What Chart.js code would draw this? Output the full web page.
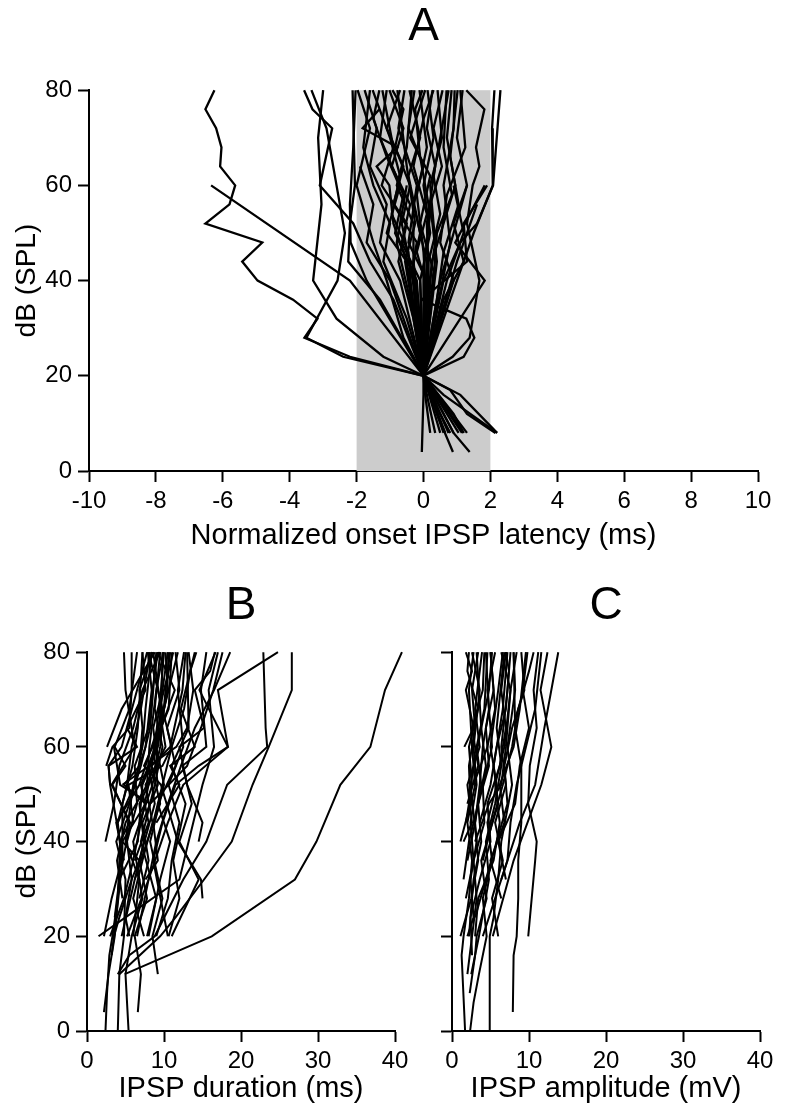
<!DOCTYPE html>
<html>
<head>
<meta charset="utf-8">
<script src="https://cdn.jsdelivr.net/npm/chart.js@4/dist/chart.umd.min.js"></script>
<style>
  html, body { margin: 0; padding: 0; background: #fff; }
  body { width: 800px; height: 1113px; position: relative; overflow: hidden; }
  .panel { position: absolute; }
</style>
</head>
<body>
<div class="panel" style="left:0;top:0"><canvas id="chartA" width="800" height="560"></canvas></div>
<div class="panel" style="left:0;top:560px"><canvas id="chartB" width="420" height="553"></canvas></div>
<div class="panel" style="left:420px;top:560px"><canvas id="chartC" width="380" height="553"></canvas></div>
<script>
// each trace is a list of [dB SPL, value] pairs
const dbTicks = [0, 20, 40, 60, 80];
const latencyTicks = [-10, -8, -6, -4, -2, 0, 2, 4, 6, 8, 10];
const shadedWindow = [-2, 2];

const latencyTraces = [
  [[80,-6.25],[76,-6.52],[72,-6.2],[68,-6.04],[64,-6.08],[60,-5.63],[56,-5.8],[52,-6.52],[48,-4.82],[44,-5.42],[40,-4.96],[36,-3.9],[32,-3.17],[28,-3.56],[24,-2.2],[20,0],[16,0.3],[8,0.9]],
  [[60,-6.35],[40,-2.2],[20,0],[12,0.4],[8,0.6]],
  [[80,-3.57],[76,-3.32],[72,-2.73],[60,-3.1],[52,-2.1],[44,-1.6],[36,-0.9],[20,0]],
  [[80,-3.0],[70,-3.15],[56,-3.05],[40,-3.3],[32,-2.6],[24,-1.2],[20,0]],
  [[80,-3.35],[72,-2.9],[60,-2.6],[50,-2.35],[40,-2.57],[28,-3.5],[24,-2.4],[20,0],[8,1.2]],
  [[80,-2.03],[68,-2.1],[56,-2.2],[48,-2.18],[40,-1.7],[20,0]],
  [[80,-2.12],[60,-2.05],[52,-2.2],[44,-2.25],[36,-1.3],[20,0],[8,0.5]],
  [[80,-1.97],[72,-1.6],[60,-2.0],[48,-1.5],[40,-1.1],[28,-0.6],[20,0]],
  [[80,-1.76],[72,-1.4],[64,-1.6],[56,-1.1],[48,-1.3],[40,-0.7],[20,0],[16,0.1],[8,0.35]],
  [[76,-1.32],[72,-1.82],[68,-0.78],[64,-1.4],[60,-1.02],[52,-0.9],[44,-0.5],[20,0]],
  [[80,-1.52],[70,-1.0],[62,-0.7],[54,-0.95],[46,-0.45],[36,-0.35],[20,0],[12,0.5],[8,0.8]],
  [[80,-1.32],[74,-1.5],[66,-1.1],[58,-0.6],[50,-0.85],[40,-0.2],[20,0]],
  [[80,-1.23],[68,-0.9],[60,-1.25],[52,-0.5],[44,-0.75],[32,-0.3],[20,0],[16,0.05],[8,0.2]],
  [[80,-1.02],[72,-0.6],[64,-0.95],[56,-0.4],[48,-0.65],[40,-0.1],[20,0]],
  [[80,-0.93],[76,-0.6],[68,-0.85],[60,-0.4],[52,-0.65],[40,-0.3],[28,-0.2],[20,0],[8,1.05]],
  [[80,-0.78],[64,-0.5],[52,-0.25],[44,-0.55],[20,0]],
  [[80,-0.57],[72,-0.75],[60,-0.2],[48,-0.45],[40,0.1],[20,0],[16,0],[4,-0.05]],
  [[80,-0.42],[70,-0.1],[62,-0.45],[50,-0.1],[42,-0.35],[20,0]],
  [[80,-0.27],[72,-0.45],[64,0.0],[56,-0.3],[44,0.1],[20,0],[12,0.9],[8,1.2]],
  [[80,-0.12],[68,0.1],[58,-0.2],[46,0.0],[40,0.05],[20,0]],
  [[80,-0.03],[76,-0.25],[66,-0.1],[54,0.2],[42,0.0],[20,0],[8,0.9],[4,1.38]],
  [[80,0.12],[70,0.3],[60,0.0],[50,0.2],[40,-0.1],[20,0]],
  [[80,0.27],[72,0.1],[64,0.35],[52,0.1],[42,0.15],[20,0],[12,0.4],[4,0.88]],
  [[80,0.42],[70,0.55],[60,0.2],[48,0.35],[36,0.1],[20,0]],
  [[80,0.57],[72,0.3],[64,0.55],[56,0.2],[44,0.4],[20,0],[8,1.3]],
  [[80,0.69],[68,0.6],[58,0.85],[50,0.4],[40,0.3],[20,0]],
  [[80,0.84],[70,0.7],[60,0.95],[52,0.6],[44,0.25],[20,0],[16,1.1],[8,2.2]],
  [[80,0.93],[72,0.9],[60,0.6],[48,0.8],[20,0]],
  [[80,1.02],[66,0.8],[56,1.05],[46,0.6],[36,0.4],[20,0],[17,0.8],[12,1.3],[8,2.15]],
  [[80,1.17],[70,1.0],[60,1.3],[50,0.9],[40,0.5],[20,0]],
  [[80,1.28],[76,1.82],[68,1.57],[64,1.67],[60,1.47],[52,1.3],[40,1.67],[28,1.38],[24,0.87],[20,0]],
  [[80,2.12],[72,2.05],[60,2.07],[50,1.5],[40,1.0],[20,0],[16,0.6],[8,2.2]],
  [[80,2.3],[60,2.08],[52,1.6],[48,1.1],[40,0.6],[20,0]],
  [[60,1.9],[52,1.2],[44,1.3],[36,-0.05],[32,1.28],[28,1.52],[24,1.2],[20,0]],
  [[60,1.83],[48,0.95],[40,1.83],[20,0]],
  [[60,1.3],[52,0.9],[44,1.2],[36,0.6],[20,0]],
  [[56,1.6],[44,1.0],[20,0]],
  [[60,-0.5],[48,-0.8],[36,-0.4],[20,0]],
  [[60,0.9],[50,1.2],[40,0.7],[20,0],[8,0.65]],
  [[64,-1.9],[56,-1.5],[48,-1.7],[40,-1.0],[20,0]],
  [[80,-0.7],[72,-1.1],[64,-0.6],[56,-0.9],[48,-0.2],[40,-0.4],[20,0]],
  [[80,0.3],[74,0.0],[64,-0.3],[54,0.1],[46,-0.2],[36,0.2],[20,0]],
  [[80,-0.35],[68,-0.5],[60,-0.8],[52,-0.3],[44,-0.3],[32,-0.1],[20,0]],
  [[80,0.75],[72,0.55],[62,0.3],[54,0.5],[44,0.15],[20,0],[8,0.75]],
  [[80,-1.1],[70,-1.3],[60,-0.7],[50,-1.1],[42,-0.3],[20,0]],
  [[80,0.05],[70,-0.4],[62,0.2],[52,-0.1],[42,0.3],[20,0],[8,1.15]],
  [[80,1.1],[68,1.25],[58,0.7],[48,0.5],[40,0.9],[20,0]],
  [[80,-1.6],[68,-1.8],[60,-1.5],[52,-1.0],[44,-1.2],[32,-0.5],[20,0]]
];

const msTicks = [0, 10, 20, 30, 40];
const durationTraces = [
  [[12,4.9],[20,16.2],[32,27],[40,29.8],[52,32.9],[60,36.8],[72,38.7],[80,40.9]],
  [[12,4.2],[20,9.5],[24,11.5],[32,15.2],[40,18.8],[52,21.5],[60,23.6],[72,26.6],[80,26.6]],
  [[12,4.0],[16,5.5],[20,8.8],[32,12.5],[40,15.5],[52,18.2],[60,23.4],[64,23.2],[80,22.9]],
  [[20,5.2],[32,8.0],[44,10.5],[52,12.5],[60,18.3],[72,17.0],[80,24.8]],
  [[20,6.5],[28,7.5],[40,9.0],[48,10.5],[56,12.2],[64,14.0],[72,16.5],[80,18.6]],
  [[20,10.5],[36,8.6],[44,9.8],[52,11.5],[56,14.5],[60,18.3],[72,14.6],[80,16.7]],
  [[60,2.6],[68,4.5],[80,8.8]],
  [[40,2.4],[48,3.5],[56,4.2],[64,6.0],[72,7.2],[80,9.5]],
  [[20,1.5],[24,5.0],[32,12.0],[40,13.2],[52,15.0],[60,16.5],[72,15.8],[80,17.0]],
  [[0,2.4],[8,2.6],[16,2.9],[20,3.3],[28,4.0],[40,4.3],[52,3.0],[56,2.8],[60,4.5],[72,6.5],[80,7.8]],
  [[0,4.0],[12,4.2],[20,4.8],[32,5.0],[40,3.8],[48,5.5],[56,7.0],[64,8.2],[80,9.0]],
  [[0,5.4],[12,5.0],[20,5.8],[28,7.2],[40,6.0],[52,8.5],[60,9.5],[72,10.2],[80,10.8]],
  [[4,2.2],[12,2.8],[20,3.6],[32,4.2],[44,5.6],[52,3.2],[60,6.2],[72,5.0],[80,4.8]],
  [[4,6.6],[12,7.0],[20,6.2],[28,7.8],[36,6.8],[48,8.8],[56,8.0],[64,9.6],[80,9.8]],
  [[12,9.2],[20,8.5],[28,9.8],[40,8.2],[52,10.0],[60,9.0],[72,10.5],[80,10.2]],
  [[20,2.2],[28,3.2],[36,4.5],[44,4.0],[52,5.2],[60,5.8],[68,7.0],[80,8.2]],
  [[20,3.5],[24,4.2],[32,5.8],[40,5.2],[48,6.5],[56,6.2],[64,8.0],[72,8.5],[80,9.2]],
  [[20,4.5],[32,6.2],[40,7.4],[48,6.8],[56,9.2],[64,8.6],[72,9.8],[80,10.5]],
  [[20,7.4],[28,6.0],[36,7.2],[44,8.5],[52,7.6],[60,10.2],[68,9.4],[80,11.2]],
  [[20,8.0],[32,9.5],[40,10.8],[48,9.2],[56,11.5],[64,10.4],[72,12.0],[80,11.5]],
  [[20,9.0],[28,10.5],[36,11.0],[44,12.0],[52,10.6],[60,12.5],[72,11.8],[80,12.6]],
  [[20,10.6],[28,12.0],[36,11.2],[48,12.8],[56,11.0],[64,13.2],[80,13.0]],
  [[20,11.0],[32,14.5],[40,12.0],[48,13.6],[56,12.4],[60,15.5],[72,14.8],[80,15.5]],
  [[20,6.0],[32,6.8],[40,5.0],[52,6.0],[60,7.6],[72,8.4],[80,7.9]],
  [[20,5.5],[24,5.0],[32,5.8],[36,6.8],[40,4.6],[48,7.6],[52,4.8],[56,6.8],[64,7.2],[72,6.8],[80,8.5]],
  [[40,4.3],[44,5.5],[52,3.3],[56,5.0],[60,3.6],[68,5.5],[80,6.5]],
  [[52,3.0],[56,2.8],[60,6.5],[64,5.2],[72,7.6],[80,7.2]],
  [[36,4.8],[44,3.8],[52,6.8],[60,8.4],[68,10.0],[80,11.8]],
  [[32,6.2],[40,7.8],[48,9.5],[56,8.4],[60,10.8],[72,12.4],[80,12.8]],
  [[44,9.0],[52,12.0],[56,10.8],[60,14.0],[68,12.2],[80,14.0]],
  [[40,14.5],[44,15.0],[52,13.0],[60,12.0],[64,15.2],[72,14.0],[76,16.0],[80,16.6]],
  [[28,15.0],[32,14.8],[40,11.8],[52,9.6],[56,7.4],[64,9.6],[72,11.4],[80,9.2]],
  [[32,7.6],[36,9.2],[44,8.6],[52,9.8],[60,11.0],[72,9.2],[80,8.0]],
  [[20,7.8],[28,9.0],[40,7.0],[52,8.8],[60,9.8],[68,8.8],[80,9.5]],
  [[24,3.6],[32,4.2],[40,6.6],[52,7.2],[60,9.2],[72,10.4],[80,10.6]],
  [[28,4.6],[36,3.9],[44,5.0],[52,7.8],[60,8.1],[72,9.0],[80,9.9]],
  [[16,3.2],[24,3.8],[36,4.6],[48,4.6],[56,5.9],[64,6.6],[80,7.2]],
  [[52,4.6],[60,11.6],[64,13.0],[72,13.8],[80,13.2]],
  [[56,2.5],[60,3.3],[64,5.5],[72,5.8],[80,5.8]],
  [[44,6.0],[52,5.4],[56,9.8],[60,11.0],[68,12.6],[76,13.4],[80,14.2]],
  [[60,3.5],[52,4.3],[48,8.2],[56,13.0],[64,14.8],[72,16.4],[80,17.6]],
  [[20,3.0],[28,4.8],[36,6.0],[44,7.0],[52,8.0],[60,8.8],[72,9.6],[80,10.0]],
  [[28,6.8],[36,8.0],[44,7.2],[52,9.2],[60,8.6],[68,10.6],[80,11.0]],
  [[36,6.2],[44,8.0],[52,7.0],[60,9.0],[68,9.6],[80,8.6]],
  [[44,4.0],[52,6.2],[60,7.2],[68,7.6],[80,8.4]]
];

const mvTicks = [0, 10, 20, 30, 40];
const amplitudeTraces = [
  [[32,6.4],[44,8.8],[52,10.8],[64,12.0],[80,13.8]],
  [[20,5.3],[36,8.0],[52,11.6],[60,12.9],[72,11.5],[80,12.4]],
  [[4,7.9],[16,8.0],[20,8.4],[28,8.6],[36,8.6],[44,9.0],[56,9.0],[64,8.2],[80,8.0]],
  [[0,4.9],[20,4.9],[24,5.4],[32,6.0],[40,6.4],[52,7.8],[60,7.2],[72,8.2],[80,8.0]],
  [[20,9.9],[36,10.8],[40,11.0],[48,9.9],[56,10.1],[64,11.0],[72,10.6],[80,11.2]],
  [[0,1.7],[16,1.25],[20,1.5],[28,2.2],[36,2.6],[44,2.0],[52,3.0],[60,2.6],[72,2.2],[80,2.8]],
  [[0,2.35],[6,2.8],[12,3.5],[20,4.5],[28,4.0],[36,5.2],[44,4.6],[52,5.8],[60,5.0],[72,6.0],[80,6.6]],
  [[20,1.1],[28,2.5],[36,3.4],[44,3.0],[52,3.8],[60,3.2],[68,4.2],[80,4.6]],
  [[40,1.1],[48,2.4],[56,2.2],[64,3.0],[72,2.6],[80,3.4]],
  [[40,1.5],[44,2.6],[52,2.0],[60,3.6],[68,3.0],[80,3.9]],
  [[32,1.5],[40,2.2],[48,3.4],[56,4.4],[64,3.8],[72,4.8],[80,5.2]],
  [[12,2.0],[20,2.6],[28,3.2],[36,2.8],[44,4.2],[52,4.0],[60,5.2],[72,4.6],[80,5.6]],
  [[12,2.5],[20,3.5],[32,4.8],[40,4.4],[48,5.6],[56,6.4],[64,5.8],[80,6.8]],
  [[8,2.3],[16,3.0],[20,3.2],[28,4.5],[36,3.8],[48,6.0],[56,5.4],[68,6.6],[80,7.2]],
  [[20,6.0],[28,5.2],[36,6.6],[44,5.6],[52,7.0],[60,6.4],[72,7.2],[80,7.6]],
  [[20,2.2],[32,2.8],[40,3.8],[48,3.4],[56,4.8],[64,4.4],[72,5.4],[80,5.0]],
  [[16,2.6],[24,2.4],[32,3.6],[40,5.0],[48,4.6],[56,6.2],[64,7.0],[72,6.4],[80,7.0]],
  [[24,3.0],[32,4.4],[40,5.8],[48,7.2],[56,6.8],[64,7.8],[72,9.4],[80,9.0]],
  [[28,6.4],[36,5.0],[44,6.8],[52,6.2],[60,8.0],[68,8.8],[80,9.6]],
  [[20,4.0],[28,5.6],[36,7.2],[44,7.6],[52,8.4],[60,9.6],[68,10.8],[80,11.6]],
  [[36,4.0],[44,5.2],[52,6.6],[60,7.8],[68,8.6],[76,10.0],[80,10.6]],
  [[40,3.0],[48,4.8],[52,6.4],[60,7.0],[72,7.6],[80,6.4]],
  [[44,1.8],[52,2.6],[60,2.2],[68,3.4],[76,2.0],[80,2.2]],
  [[60,1.6],[64,2.8],[72,1.8],[76,2.6],[80,1.8]],
  [[52,2.8],[60,4.6],[68,5.6],[80,5.0]],
  [[20,2.0],[24,2.8],[32,2.4],[40,3.2],[52,2.4],[64,3.8],[80,3.2]],
  [[32,7.0],[40,6.0],[48,8.2],[56,8.8],[64,10.0],[72,9.2],[80,9.8]],
  [[20,3.0],[28,3.4],[36,5.4],[44,6.2],[52,5.6],[60,6.8],[72,7.6],[80,8.4]],
  [[44,3.6],[52,5.0],[60,5.8],[68,7.0],[76,7.4],[80,7.0]],
  [[48,2.0],[56,3.4],[64,2.6],[72,4.0],[80,4.2]],
  [[36,2.0],[44,3.0],[52,3.6],[60,4.0],[68,4.8],[80,4.4]],
  [[28,1.8],[36,2.8],[44,2.4],[52,3.2],[60,2.8],[72,3.6],[80,2.6]]
];

const FONT = "'Liberation Sans', Arial, Helvetica, sans-serif";

// grey latency window behind the traces
const shadePlugin = {
  id: 'shade',
  beforeDatasetsDraw(chart, args, opts) {
    if (!opts.range) return;
    const {ctx, scales: {x, y}} = chart;
    const x0 = x.getPixelForValue(opts.range[0]);
    const x1 = x.getPixelForValue(opts.range[1]);
    const yTop = y.getPixelForValue(y.max);
    const yBot = y.getPixelForValue(y.min);
    ctx.save();
    ctx.fillStyle = '#cccccc';
    ctx.fillRect(x0, yTop, x1 - x0, yBot - yTop);
    ctx.restore();
  }
};

function toDatasets(traces, width) {
  return traces.map(t => ({
    data: t.map(p => ({x: p[1], y: p[0]})),
    showLine: true,
    borderColor: '#000',
    borderWidth: width,
    pointRadius: 0,
    fill: false,
    tension: 0,
    clip: false
  }));
}

function makePanel(id, cfg) {
  const axisStyle = {
    grid: { drawOnChartArea: false, drawTicks: true, tickLength: 11, tickWidth: 2, tickColor: '#000' },
    border: { display: true, color: '#000', width: 2 }
  };
  new Chart(document.getElementById(id), {
    type: 'scatter',
    data: { datasets: toDatasets(cfg.traces, cfg.lineWidth) },
    options: {
      responsive: false,
      animation: false,
      events: [],
      layout: { padding: cfg.padding },
      plugins: {
        legend: { display: false },
        tooltip: { enabled: false },
        shade: { range: cfg.shade || null },
        title: {
          display: true, text: cfg.letter, color: '#000', fullSize: false,
          font: { family: FONT, size: 46, weight: 'normal', lineHeight: 1.2 },
          padding: cfg.titlePad
        }
      },
      scales: {
        x: Object.assign({}, axisStyle, {
          type: 'linear', min: cfg.xTicks[0], max: cfg.xTicks[cfg.xTicks.length - 1],
          afterBuildTicks: s => { s.ticks = cfg.xTicks.map(v => ({value: v})); },
          afterFit: s => { s.height = cfg.xHeight; },
          ticks: { color: '#000', padding: 5, maxRotation: 0, font: { family: FONT, size: 24 } },
          title: { display: true, text: cfg.xTitle, color: '#000', padding: { top: 0, bottom: 0 },
                   font: { family: FONT, size: 29, lineHeight: 1.2 } }
        }),
        y: Object.assign({}, axisStyle, {
          type: 'linear', min: 0, max: 80,
          afterBuildTicks: s => { s.ticks = dbTicks.map(v => ({value: v})); },
          afterFit: s => { s.width = cfg.yWidth; },
          ticks: { display: cfg.yLabels, color: '#000', padding: 6, font: { family: FONT, size: 24 } },
          title: { display: cfg.yLabels, text: 'dB (SPL)', color: '#000', padding: { top: 10, bottom: 0 },
                   font: { family: FONT, size: 28, lineHeight: 1.2 } }
        })
      }
    },
    plugins: [shadePlugin]
  });
}

makePanel('chartA', {
  letter: 'A', traces: latencyTraces, lineWidth: 2.3, shade: shadedWindow,
  xTicks: latencyTicks, xTitle: 'Normalized onset IPSP latency (ms)',
  padding: { top: 0, left: 0, right: 42, bottom: 7 },
  titlePad: { top: 0, bottom: 35 }, xHeight: 82, yWidth: 89, yLabels: true
});

makePanel('chartB', {
  letter: 'B', traces: durationTraces, lineWidth: 2,
  xTicks: msTicks, xTitle: 'IPSP duration (ms)',
  padding: { top: 0, left: 0, right: 25, bottom: 7 },
  titlePad: { top: 19, bottom: 18 }, xHeight: 75, yWidth: 87, yLabels: true
});

makePanel('chartC', {
  letter: 'C', traces: amplitudeTraces, lineWidth: 2,
  xTicks: mvTicks, xTitle: 'IPSP amplitude (mV)',
  padding: { top: 0, left: 0, right: 40, bottom: 7 },
  titlePad: { top: 19, bottom: 18 }, xHeight: 75, yWidth: 32, yLabels: false
});
</script>
</body>
</html>
